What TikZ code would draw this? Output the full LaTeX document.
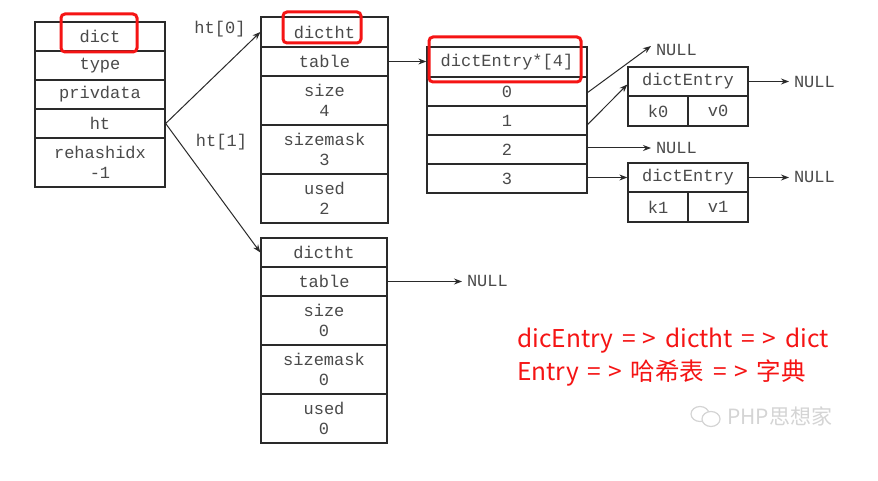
\documentclass[tikz,border=0pt]{standalone}
\usepackage{fontspec}
\setmonofont{Liberation Mono}
\newfontfamily\cjk{Noto Sans CJK SC}
\usetikzlibrary{arrows.meta}
\definecolor{linec}{HTML}{2A2A2A}
\definecolor{txtc}{HTML}{4A4A4A}
\definecolor{hlred}{HTML}{F51414}
\definecolor{wmc}{HTML}{D4D4D4}
\tikzset{
  cell/.style={draw=linec, line width=1.3pt, inner sep=0pt, align=center,
    text=txtc, font=\ttfamily\fontsize{17}{20}\selectfont},
  nulltxt/.style={inner sep=0pt, outer sep=5pt, anchor=west, text=txtc, font=\ttfamily\fontsize{17}{20}\selectfont},
  lbl/.style={inner sep=0pt, text=txtc, font=\ttfamily\fontsize{17}{20}\selectfont},
  conn/.style={draw=linec, line width=1pt, -{Stealth[length=8pt,width=6pt]}},
  hl/.style={draw=hlred, line width=3pt, rounded corners=4pt},
  redtxt/.style={inner sep=0pt, anchor=base west, text=hlred, font=\cjk\fontsize{24.5}{28}\selectfont}
}
\newcommand{\imp}{\hspace{9pt}=\kern7pt>\hspace{9pt}}
\begin{document}
\begin{tikzpicture}[x=1pt,y=-1pt]
\useasboundingbox (0,0) rectangle (878,481);
\fill[white] (0,0) rectangle (878,481);

% dict
\node[cell, minimum width=130pt, minimum height=29pt] (ddict) at (100,36.5) {dict};
\node[cell, minimum width=130pt, minimum height=29pt] (dtype) at (100,65.5) {type};
\node[cell, minimum width=130pt, minimum height=29pt] (dpriv) at (100,94.5) {privdata};
\node[cell, minimum width=130pt, minimum height=29pt] (dht) at (100,123.5) {ht};
\node[cell, minimum width=130pt, minimum height=49pt] (drehash) at (100,162.5) {rehashidx\\-1};

% dictht 0
\node[cell, minimum width=127pt, minimum height=30pt] (hadictht) at (324.5,32) {dictht};
\node[cell, minimum width=127pt, minimum height=29pt] (hatable) at (324.5,61.5) {table};
\node[cell, minimum width=127pt, minimum height=49pt] (hasize) at (324.5,100.5) {size\\4};
\node[cell, minimum width=127pt, minimum height=49pt] (hamask) at (324.5,149.5) {sizemask\\3};
\node[cell, minimum width=127pt, minimum height=49pt] (haused) at (324.5,198.5) {used\\2};

% dictht 1
\node[cell, minimum width=126pt, minimum height=29pt] (hbdictht) at (324,252.5) {dictht};
\node[cell, minimum width=126pt, minimum height=29pt] (hbtable) at (324,281.5) {table};
\node[cell, minimum width=126pt, minimum height=49pt] (hbsize) at (324,320.5) {size\\0};
\node[cell, minimum width=126pt, minimum height=49pt] (hbmask) at (324,369.5) {sizemask\\0};
\node[cell, minimum width=126pt, minimum height=49pt] (hbused) at (324,418.5) {used\\0};

% array
\node[cell, minimum width=160pt, minimum height=30pt] (arr) at (507,62) {dictEntry*[4]};
\node[cell, minimum width=160pt, minimum height=29pt] (arra) at (507,91.5) {0};
\node[cell, minimum width=160pt, minimum height=29pt] (arrb) at (507,120.5) {1};
\node[cell, minimum width=160pt, minimum height=29pt] (arrc) at (507,149.5) {2};
\node[cell, minimum width=160pt, minimum height=29pt] (arrd) at (507,178.5) {3};

% entries
\node[cell, minimum width=120pt, minimum height=29pt] (ea) at (688,81.5) {dictEntry};
\node[cell, minimum width=60pt, minimum height=30pt] (eak) at (658,111) {k0};
\node[cell, minimum width=60pt, minimum height=30pt] (eav) at (718,111) {v0};
\node[cell, minimum width=120pt, minimum height=29pt] (eb) at (688,177.5) {dictEntry};
\node[cell, minimum width=60pt, minimum height=30pt] (ebk) at (658,207) {k1};
\node[cell, minimum width=60pt, minimum height=30pt] (ebv) at (718,207) {v1};

% NULLs (anchor west = outer point, text starts 5pt to the right)
\node[nulltxt] (nulla) at (651,50) {NULL};
\node[nulltxt] (nullc) at (651,148) {NULL};
\node[nulltxt] (nullea) at (789,82) {NULL};
\node[nulltxt] (nulleb) at (789,177) {NULL};
\node[nulltxt] (nullt) at (462,281) {NULL};

% labels
\node[lbl] (lhta) at (220,29) {ht[0]};
\node[lbl] (lhtb) at (221.5,142) {ht[1]};

% connectors
\draw[conn] (dht.east) -- (hadictht.west);
\draw[conn] (dht.east) -- (hbdictht.west);
\draw[conn] (hatable.east) -- (hatable.east -| arr.west);
\draw[conn] (hbtable.east) -- (hbtable.east -| nullt.west);
\draw[conn] ([yshift=-1pt]arra.east) -- ([yshift=4pt]nulla.west);
\draw[conn] ([yshift=-4pt]arrb.east) -- ([yshift=-3pt]ea.west);
\draw[conn] (nullc.west -| arrc.east) -- (nullc.west);
\draw[conn] (eb.west -| arrd.east) -- (eb.west);
\draw[conn] (ea.east) -- (ea.east -| nullea.west);
\draw[conn] (eb.east) -- (eb.east -| nulleb.west);

% highlights
\draw[hl] (61,14) rectangle (137,52);
\draw[hl] (283,12) rectangle (361,43);
\draw[hl] (429,37) rectangle (581,82);

% red text
\node[redtxt] (rta) at (517,347) {dicEntry\imp dictht\imp dict};
\node[redtxt] (rtb) at (517,380) {Entry\imp 哈希表\imp 字典};

% watermark
\draw[wmc, line width=1.2pt] (700,414) ellipse [x radius=9pt, y radius=7.5pt];
\fill[white] (711,419) ellipse [x radius=9pt, y radius=7.5pt];
\draw[wmc, line width=1.2pt] (711,419) ellipse [x radius=9pt, y radius=7.5pt];
\node[inner sep=0pt, anchor=west, text=wmc, font=\cjk\fontsize{21}{24}\selectfont] (wm) at (727,416) {PHP思想家};
\end{tikzpicture}
\end{document}
